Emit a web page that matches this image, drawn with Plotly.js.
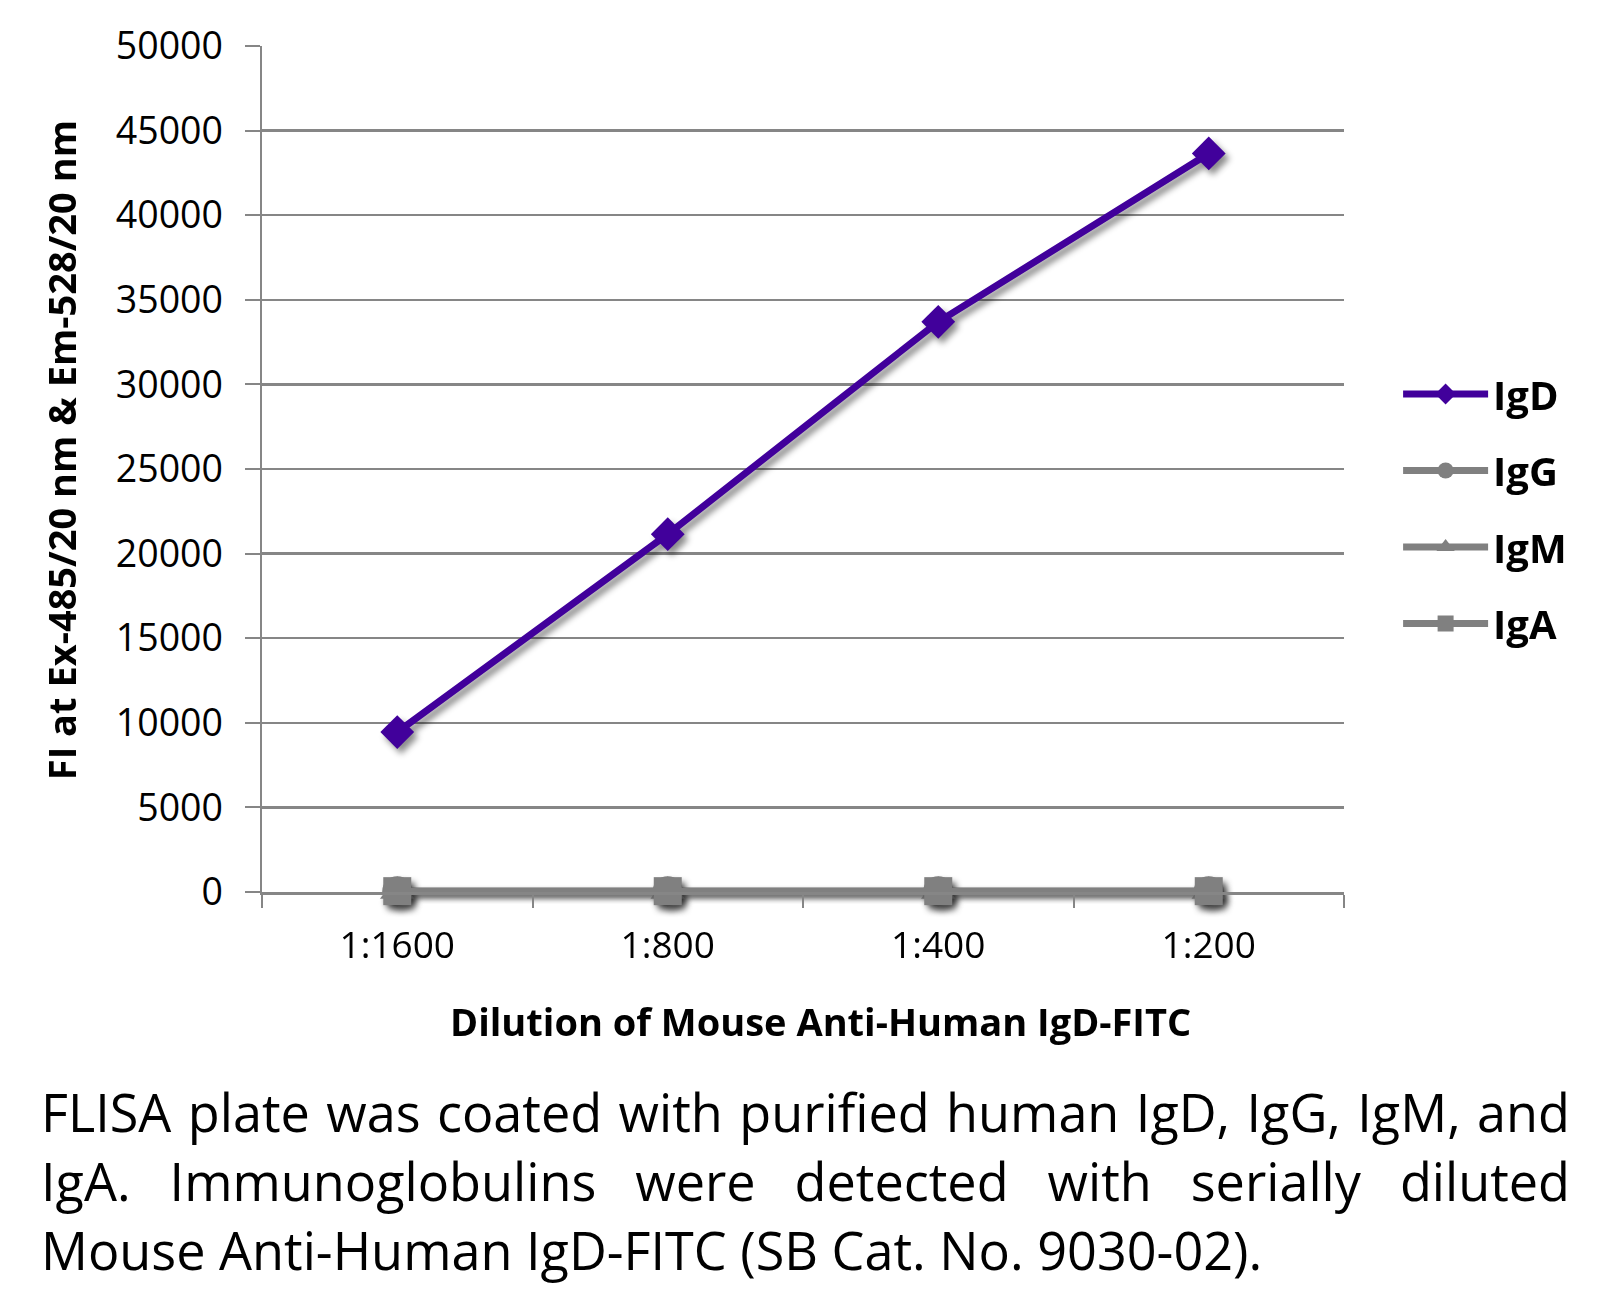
<!DOCTYPE html>
<html>
<head>
<meta charset="utf-8">
<script src="https://cdn.plot.ly/plotly-3.0.1.min.js"></script>
<style>
  html, body { margin: 0; padding: 0; background: #fff; }
  #wrap { position: relative; width: 1612px; height: 1306px; }
  #chart { position: absolute; left: 0; top: 0; width: 1612px; height: 1306px; }
  #chart .scatterlayer .trace { filter: drop-shadow(4px 5px 3px rgba(0,0,0,0.45)); }
  #caption { position: absolute; left: 41px; top: 1077px; width: 1529px;
    font-family: "Open Sans", sans-serif; font-size: 52.2px; line-height: 69px; color: #000; }
  #caption .j { text-align: justify; text-align-last: justify; white-space: nowrap; }
  #caption .l { text-align: left; white-space: nowrap; }
</style>
</head>
<body>
<div id="wrap">
  <div id="chart"></div>
  <div id="caption"></div>
</div>
<script>
// ---- data ----
const categories = ['1:1600', '1:800', '1:400', '1:200'];
const igD = [9450, 21150, 33700, 43650];
const igG = [50, 50, 50, 50];
const igM = [50, 50, 50, 50];
const igA = [50, 50, 50, 50];
const seriesNames = ['IgD', 'IgG', 'IgM', 'IgA'];
const yTickVals = [0, 5000, 10000, 15000, 20000, 25000, 30000, 35000, 40000, 45000, 50000];
const xTitle = 'Dilution of Mouse Anti-Human IgD-FITC';
const yTitle = 'FI at Ex-485/20 nm &amp; Em-528/20 nm';
const captionLines = [
  'FLISA plate was coated with purified human IgD, IgG, IgM, and',
  'IgA.  Immunoglobulins were detected with serially diluted',
  'Mouse Anti-Human IgD-FITC (SB Cat. No. 9030-02).'
];

const purple = '#41009B';
const gray = '#808080';
const FONT = '"Open Sans", sans-serif';
const TITLE_FONT = { family: FONT, size: 38, weight: 700, color: '#000' };

const traces = [
  { x: categories, y: igD, name: seriesNames[0], mode: 'lines+markers', legendgroup: 'a', cliponaxis: false,
    line: { color: purple, width: 7 }, marker: { symbol: 'diamond', size: 26, color: purple } },
  { x: categories, y: igG, name: seriesNames[1], mode: 'lines+markers', legendgroup: 'b', cliponaxis: false,
    line: { color: gray, width: 7 }, marker: { symbol: 'circle', size: 30, color: gray } },
  { x: categories, y: igM, name: seriesNames[2], mode: 'lines+markers', legendgroup: 'c', cliponaxis: false,
    line: { color: gray, width: 7 }, marker: { symbol: 'triangle-up', size: 30, color: gray } },
  { x: categories, y: igA, name: seriesNames[3], mode: 'lines+markers', legendgroup: 'd', cliponaxis: false,
    line: { color: gray, width: 7 }, marker: { symbol: 'square', size: 28, color: gray } }
];

const layout = {
  width: 1612, height: 1306,
  paper_bgcolor: '#fff', plot_bgcolor: '#fff',
  margin: { l: 262, r: 268, t: 46, b: 414 },
  font: { family: FONT, color: '#000', size: 36 },
  showlegend: true,
  legend: {
    x: 1.05, xanchor: 'left', y: 0.4527, yanchor: 'middle',
    font: { family: FONT, size: 40, weight: 700, color: '#000' },
    itemwidth: 85, tracegroupgap: 21.5, bgcolor: 'rgba(0,0,0,0)',
    itemsizing: 'trace'
  },
  xaxis: {
    type: 'category', tickson: 'boundaries', ticks: 'outside', ticklen: 13, tickwidth: 2,
    tickcolor: '#868686', showline: true, linecolor: '#868686', linewidth: 2.5,
    showgrid: false, zeroline: false, range: [-0.5, 3.5],
    tickfont: { family: FONT, size: 37, color: '#000' },
    ticklabelstandoff: 19
  },
  yaxis: {
    range: [0, 50000], tickvals: yTickVals, ticktext: yTickVals.map(String),
    ticks: 'outside', ticklen: 15, tickwidth: 2, tickcolor: '#868686',
    showline: true, linecolor: '#868686', linewidth: 2.5,
    showgrid: true, gridcolor: '#868686', gridwidth: 2.5, zeroline: false,
    tickfont: { family: FONT, size: 37.5, color: '#000' },
    ticklabelstandoff: 14
  },
  annotations: [
    { text: xTitle, xref: 'paper', yref: 'paper', x: 0.516, y: -0.1519,
      xanchor: 'center', yanchor: 'middle', showarrow: false, font: TITLE_FONT },
    { text: yTitle, xref: 'paper', yref: 'paper', x: -0.1851, y: 0.5219, textangle: -90,
      xanchor: 'center', yanchor: 'middle', showarrow: false, font: TITLE_FONT }
  ]
};

Plotly.newPlot('chart', traces, layout, { displayModeBar: false, staticPlot: true });

const cap = document.getElementById('caption');
captionLines.forEach((t, i) => {
  const d = document.createElement('div');
  d.className = i < captionLines.length - 1 ? 'j' : 'l';
  d.textContent = t;
  cap.appendChild(d);
});
</script>
</body>
</html>
